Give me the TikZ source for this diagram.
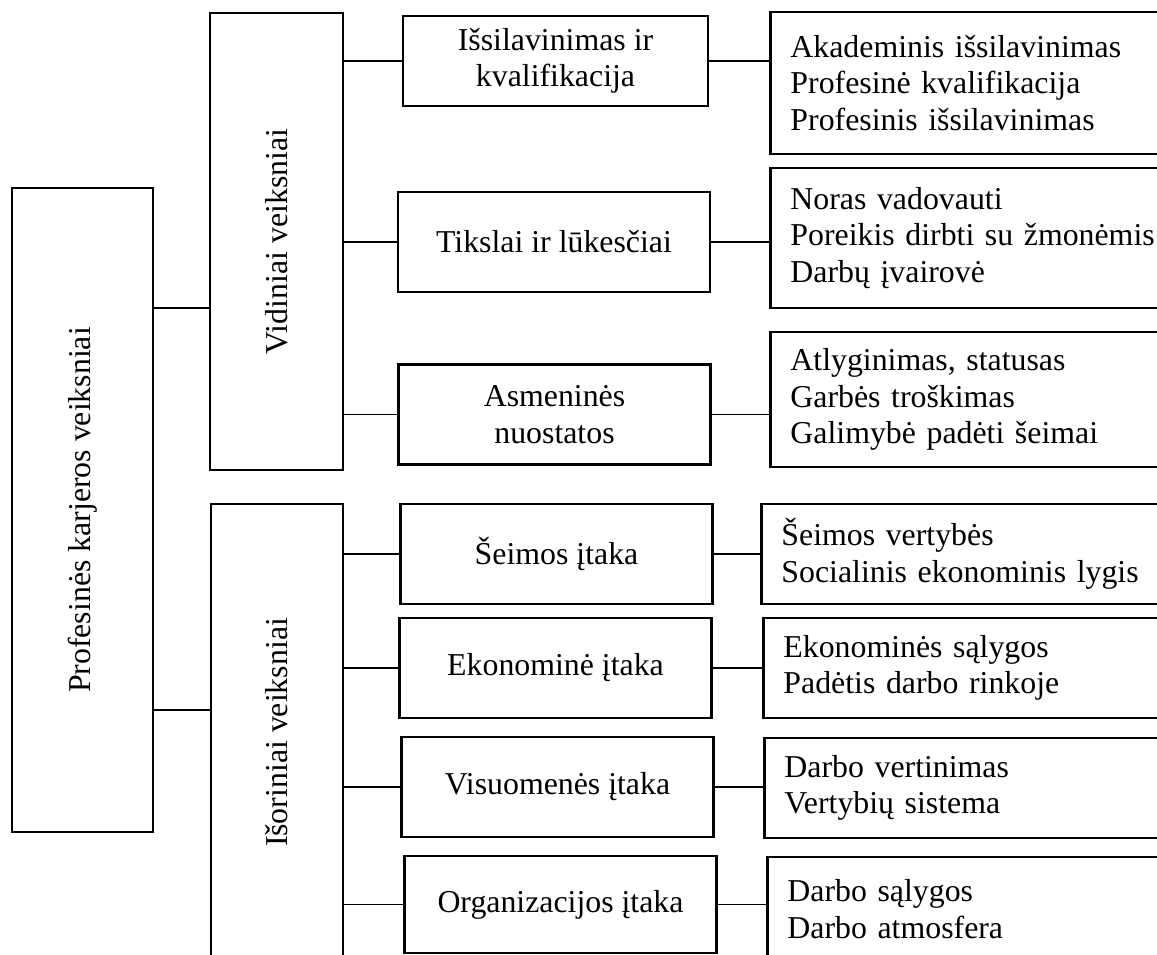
\documentclass[tikz,border=0pt]{standalone}
\usepackage{fontspec}
\setmainfont{Liberation Serif}
\usepackage{graphicx}
\usetikzlibrary{positioning}
\newcommand{\un}{0.377pt}

\begin{document}
\begin{tikzpicture}[x=\un,y=-\un,
    box/.style={draw,line width=1.1pt,inner sep=0pt,align=center,
                font=\fontsize{12}{13.8}\selectfont},
    mid/.style={box,minimum width=312*\un,minimum height=100*\un},
    side/.style={box,anchor=west,align=left,minimum height=100*\un,
                 text width=380*\un,inner xsep=20*\un},
    conn/.style={line width=0.6pt}]
    \useasboundingbox (0,0) rectangle (1157,955);
    \clip (0,0) rectangle (1157,955);
    % main and the two groups
    \node[box,minimum width=141*\un,minimum height=644*\un] (main) at (82.5,510)
        {\rotatebox{90}{Profesinės karjeros veiksniai}};
    \node[box,minimum width=133*\un,minimum height=457*\un] (inner) at (276.5,241.5)
        {\rotatebox{90}{Vidiniai veiksniai}};
    \node[box,minimum width=132*\un,minimum height=457*\un] (outer) at (277,732.5)
        {\rotatebox{90}{Išoriniai veiksniai}};
    % middle column
    \node[mid,minimum width=305*\un,minimum height=90*\un] (edu) at (555.5,61)
        {Išsilavinimas ir\\kvalifikacija};
    \node[mid] (goals) at (554,242) {Tikslai ir lūkesčiai};
    \node[mid] (attit) at (554.5,414.5) {Asmeninės\\nuostatos};
    \node[mid] (family) at (556.5,554) {Šeimos įtaka};
    \node[mid] (econ) at (555.5,668) {Ekonominė įtaka};
    \node[mid] (society) at (557.5,787) {Visuomenės įtaka};
    \node[mid,minimum height=97*\un] (org) at (560.5,904.5) {Organizacijos įtaka};
    % right column
    \node[side,minimum height=142*\un] (eduR) at (769,83)
        {Akademinis išsilavinimas\\Profesinė kvalifikacija\\Profesinis išsilavinimas};
    \node[side,minimum height=140*\un] (goalsR) at (769,238)
        {Noras vadovauti\\Poreikis dirbti su žmonėmis\\Darbų įvairovė};
    \node[side,minimum height=135*\un] (attitR) at (769,399.5)
        {Atlyginimas, statusas\\Garbės troškimas\\Galimybė padėti šeimai};
    \node[side] (familyR) at (760,554) {Šeimos vertybės\\Socialinis ekonominis lygis};
    \node[side] (econR) at (762,668) {Ekonominės sąlygos\\Padėtis darbo rinkoje};
    \node[side] (societyR) at (763,788) {Darbo vertinimas\\Vertybių sistema};
    \node[side,minimum height=104*\un] (orgR) at (766,909) {Darbo sąlygos\\Darbo atmosfera};
    % connectors
    \coordinate (j1) at (0,308);
    \coordinate (j2) at (0,710);
    \draw[conn] (main.east |- j1) -- (inner.west |- j1);
    \draw[conn] (main.east |- j2) -- (outer.west |- j2);
    \foreach \n in {edu,goals,attit}
        \draw[conn] (inner.east |- \n.west) -- (\n.west);
    \foreach \n in {family,econ,society,org}
        \draw[conn] (outer.east |- \n.west) -- (\n.west);
    \foreach \n in {edu,goals,attit,family,econ,society,org}
        \draw[conn] (\n.east) -- (\n.east -| \n R.west);
\end{tikzpicture}
\end{document}
